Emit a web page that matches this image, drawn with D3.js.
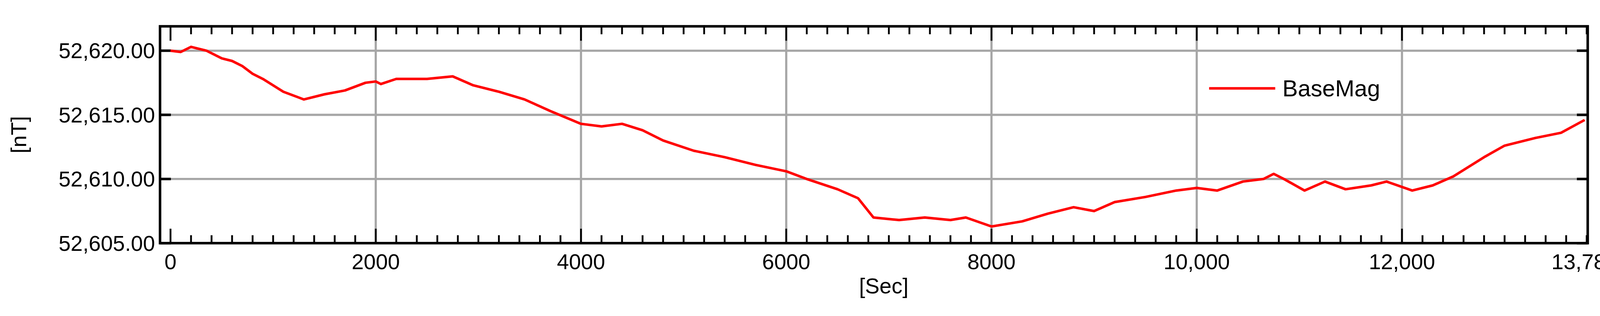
<!DOCTYPE html>
<html><head><meta charset="utf-8">
<script src="https://cdn.jsdelivr.net/npm/d3@7"></script>
<style>html,body{margin:0;padding:0;background:#fff;width:100%;height:100%;overflow:hidden}svg{display:block}text{font-family:"Liberation Sans",Arial,sans-serif}</style>
</head><body><div id="plot"></div>
<script>
// time in seconds and field in nT
const secs = [0,100,200,350,500,600,700,800,900,1100,1300,1500,1700,1900,2000,2050,2200,2500,2750,2950,3200,3450,3700,4000,4200,4400,4600,4800,5100,5400,5700,6000,6200,6500,6700,6850,7100,7350,7600,7750,8000,8300,8550,8800,9000,9200,9500,9800,10000,10200,10450,10650,10750,10850,11050,11250,11450,11700,11850,12100,12300,12500,12800,13000,13300,13550,13780];
const baseMag = [52620.0,52619.9,52620.3,52620.0,52619.4,52619.2,52618.8,52618.2,52617.8,52616.8,52616.2,52616.6,52616.9,52617.5,52617.6,52617.4,52617.8,52617.8,52618.0,52617.3,52616.8,52616.2,52615.3,52614.3,52614.1,52614.3,52613.8,52613.0,52612.2,52611.7,52611.1,52610.6,52610.0,52609.2,52608.5,52607.0,52606.8,52607.0,52606.8,52607.0,52606.3,52606.7,52607.3,52607.8,52607.5,52608.2,52608.6,52609.1,52609.3,52609.1,52609.8,52610.0,52610.4,52610.0,52609.1,52609.8,52609.2,52609.5,52609.8,52609.1,52609.5,52610.2,52611.7,52612.6,52613.2,52613.6,52614.6];
const xTicks = [0,2000,4000,6000,8000,10000,12000,13780];
const xTickLabels = ["0","2000","4000","6000","8000","10,000","12,000","13,780"];
const yTicks = [52605,52610,52615,52620];
const yTickLabels = ["52,605.00","52,610.00","52,615.00","52,620.00"];

const w = 4429, h = 810;
const margin = {top: 40, right: 34, bottom: 169, left: 443};
const svg = d3.select("#plot").append("svg")
  .attr("width", "100vw").attr("height", "100vh")
  .attr("viewBox", `0 0 ${w} ${h}`).attr("preserveAspectRatio", "xMidYMid meet");

const x = d3.scaleLinear().domain([-102, 13810]).range([margin.left, w - margin.right]);
const y = d3.scaleLinear().domain([52605, 52621.9]).range([h - margin.bottom, margin.top]);

// grid
svg.selectAll(".vg").data(xTicks.slice(1, 7)).enter().append("line")
  .attr("x1", d => x(d)).attr("x2", d => x(d)).attr("y1", margin.top).attr("y2", h - margin.bottom)
  .attr("stroke", "#a6a6a6").attr("stroke-width", 6);
svg.selectAll(".hg").data(yTicks.slice(1)).enter().append("line")
  .attr("x1", margin.left).attr("x2", w - margin.right).attr("y1", d => y(d)).attr("y2", d => y(d))
  .attr("stroke", "#a6a6a6").attr("stroke-width", 6);

// minor / major ticks (inward, both sides)
const minor = d3.range(0, 13801, 200);
const bottomY = h - margin.bottom, topY = margin.top;
minor.forEach(v => {
  const major = v % 2000 === 0 && v <= 12000;
  const len = major ? 40 : 22;
  svg.append("line").attr("x1", x(v)).attr("x2", x(v)).attr("y1", bottomY).attr("y2", bottomY - len).attr("stroke", "#000").attr("stroke-width", 5);
  svg.append("line").attr("x1", x(v)).attr("x2", x(v)).attr("y1", topY).attr("y2", topY + len).attr("stroke", "#000").attr("stroke-width", 5);
});
yTicks.forEach(v => {
  svg.append("line").attr("x1", margin.left).attr("x2", margin.left + 30).attr("y1", y(v)).attr("y2", y(v)).attr("stroke", "#000").attr("stroke-width", 7);
  svg.append("line").attr("x1", w - margin.right).attr("x2", w - margin.right - 30).attr("y1", y(v)).attr("y2", y(v)).attr("stroke", "#000").attr("stroke-width", 7);
});

// frame
svg.append("rect").attr("x", margin.left).attr("y", margin.top)
  .attr("width", w - margin.left - margin.right).attr("height", h - margin.top - margin.bottom)
  .attr("fill", "none").attr("stroke", "#000").attr("stroke-width", 7);

// tick labels
svg.selectAll(".xl").data(xTicks).enter().append("text")
  .attr("x", d => x(d)).attr("y", h - margin.bottom + 72)
  .attr("text-anchor", "middle").attr("font-size", 60).text((d, i) => xTickLabels[i]);
svg.selectAll(".yl").data(yTicks).enter().append("text")
  .attr("x", margin.left - 14).attr("y", d => y(d) + 21)
  .attr("text-anchor", "end").attr("font-size", 60).text((d, i) => yTickLabels[i]);

// axis titles
svg.append("text").attr("x", x(6950)).attr("y", 780).attr("text-anchor", "middle").attr("font-size", 60).text("[Sec]");
svg.append("text").attr("transform", `translate(72,${(margin.top + h - margin.bottom) / 2}) rotate(-90)`)
  .attr("text-anchor", "middle").attr("font-size", 60).text("[nT]");

// data line
const line = d3.line().x((d, i) => x(secs[i])).y(d => y(d));
svg.append("path").datum(baseMag).attr("d", line)
  .attr("fill", "none").attr("stroke", "#ff0000").attr("stroke-width", 7).attr("stroke-linejoin", "round");

// legend
svg.append("line").attr("x1", 3347).attr("x2", 3530).attr("y1", 212).attr("y2", 212).attr("stroke", "#ff0000").attr("stroke-width", 7);
svg.append("text").attr("x", 3550).attr("y", 234).attr("font-size", 64).text("BaseMag");
</script></body></html>
